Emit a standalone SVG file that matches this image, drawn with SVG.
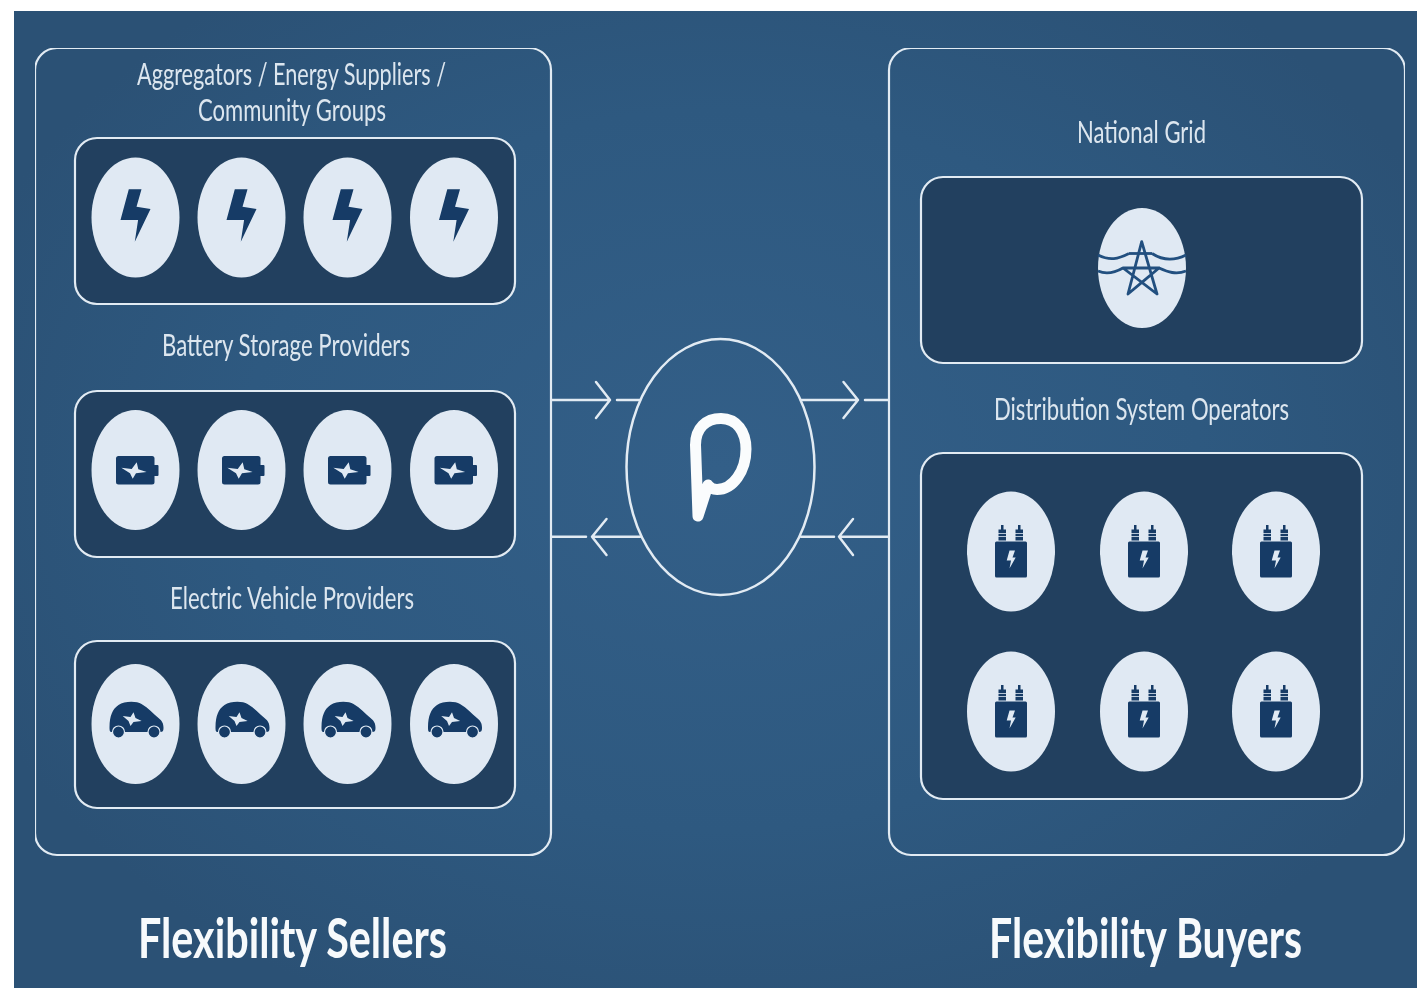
<svg xmlns="http://www.w3.org/2000/svg" width="1417" height="988" viewBox="0 0 1417 988">
<defs>
<radialGradient id="bg" gradientUnits="userSpaceOnUse" cx="720" cy="470" r="800" gradientTransform="translate(720 470) scale(1 0.75) translate(-720 -470)">
<stop offset="0" stop-color="#335f88"/><stop offset="0.6" stop-color="#2e5980"/><stop offset="1" stop-color="#2b5175"/>
</radialGradient>
<filter id="soft" x="0" y="0" width="100%" height="100%"><feGaussianBlur stdDeviation="0.45"/></filter>
<g id="bolt"><ellipse class="disc" rx="44" ry="60"/><path class="ink" d="M-6.700 -28.200H6L1 -10.800L15 -8.500L-0.700 24.200L2.600 2.500H-15Z"/></g>
<g id="battery"><ellipse class="disc" rx="44" ry="60"/><rect class="ink" x="-19.500" y="-14" width="38.500" height="28.500" rx="2.500"/><rect class="ink" x="18" y="-5" width="5" height="11" rx="1"/><path class="disc" d="M-14.200 -2.300L-3.800 -1L1.200 -7.700L2.800 -0.700L11.200 2L0.500 3.300L-2.800 8.700L-5.500 3.300Z"/></g>
<g id="car"><ellipse class="disc" rx="44" ry="60"/><path class="ink" d="M-26 3C-26 -8 -23 -15 -17 -19C-11 -23 1 -23 6 -20C13 -16 18 -10 23 -6C27 -3 28 0 28 4C28 7 27 8 25 8H-24C-26 8 -26 6 -26 3Z"/><circle class="wheel" cx="-17" cy="8" r="6"/><circle class="wheel" cx="18.500" cy="8" r="6"/><path class="disc" d="M-12.800 -8L-5 -7L-2 -11.700L0 -6L6.200 -3L-2 -2L-5 2L-7 -3Z"/></g>
<g id="xfmr"><ellipse class="disc" rx="44" ry="60"/><rect class="ink" x="-16" y="-10" width="32" height="36" rx="1.500"/><path class="ink" d="M-10 -26.500H-7.500V-22H-5V-11H-12.500V-22H-10ZM7 -26.500H9.500V-22H12V-11H4.500V-22H7Z"/><path class="rib" d="M-13 -18H-5M-13 -15H-5M4 -18H12.500M4 -15H12.500"/><path class="disc" d="M-1.500 -1H4L1.500 6H4.700L-1.500 17L0 9H-4.300Z"/></g>
</defs>
<style>
.disc{fill:#e0e9f3}
.ink{fill:#123a66}
.rib{fill:none;stroke:#e0e9f3;stroke-width:.8}
.wheel{fill:#123a66;stroke:#e0e9f3;stroke-width:1.200}
.outer{fill:none;stroke:#e2ebf3;stroke-width:2.200}
.inner{fill:#21405f;stroke:#e2ebf3;stroke-width:2.200}
.hub{fill:none;stroke:#e2ebf3;stroke-width:2.500}
.conn{fill:none;stroke:#e2ebf3;stroke-width:2.500;stroke-linecap:round;stroke-linejoin:round}
.lbl{font-family:"Lato","Liberation Sans",sans-serif;font-size:30px;fill:#dce6ef}
.title{font-family:"Lato","Liberation Sans",sans-serif;font-size:56px;font-weight:700;fill:#f7fafc}
</style>
<rect width="1417" height="988" fill="#ffffff"/>
<rect x="14" y="11" width="1403" height="977" fill="url(#bg)"/>
<g filter="url(#soft)">
<g id="sellers">
<rect class="outer" x="35" y="48" width="516" height="807" rx="22"/>
<text class="lbl" x="137" y="85" textLength="309" lengthAdjust="spacingAndGlyphs">Aggregators / Energy Suppliers /</text>
<text class="lbl" x="198" y="121" textLength="188" lengthAdjust="spacingAndGlyphs">Community Groups</text>
<text class="lbl" x="162" y="356" textLength="248" lengthAdjust="spacingAndGlyphs">Battery Storage Providers</text>
<text class="lbl" x="170" y="609" textLength="244" lengthAdjust="spacingAndGlyphs">Electric Vehicle Providers</text>
<text class="title" x="138" y="958" textLength="309" lengthAdjust="spacingAndGlyphs">Flexibility Sellers</text>
</g>
<g id="aggregators">
<rect class="inner" x="75" y="138" width="440" height="166" rx="22"/>
<use href="#bolt" x="135.500" y="217.500"/><use href="#bolt" x="241.500" y="217.500"/><use href="#bolt" x="347.500" y="217.500"/><use href="#bolt" x="454" y="217.500"/>
</g>
<g id="battery-providers">
<rect class="inner" x="75" y="391" width="440" height="166" rx="22"/>
<use href="#battery" x="135.500" y="470"/><use href="#battery" x="241.500" y="470"/><use href="#battery" x="347.500" y="470"/><use href="#battery" x="454" y="470"/>
</g>
<g id="ev-providers">
<rect class="inner" x="75" y="641" width="440" height="167" rx="22"/>
<use href="#car" x="135.500" y="724"/><use href="#car" x="241.500" y="724"/><use href="#car" x="347.500" y="724"/><use href="#car" x="454" y="724"/>
</g>

<g id="buyers">
<rect class="outer" x="889" y="48" width="516" height="807" rx="22"/>
<text class="lbl" x="1077" y="143" textLength="129" lengthAdjust="spacingAndGlyphs">National Grid</text>
<text class="lbl" x="994" y="420" textLength="295" lengthAdjust="spacingAndGlyphs">Distribution System Operators</text>
<text class="title" x="989" y="958" textLength="313" lengthAdjust="spacingAndGlyphs">Flexibility Buyers</text>
</g>
<g id="national-grid">
<rect class="inner" x="921" y="177" width="441" height="186" rx="22"/>
<ellipse class="disc" cx="1142" cy="268" rx="44" ry="60"/>
<g fill="none" stroke="#21507f" stroke-width="2.800" stroke-linejoin="round">
<path d="M1128 294L1141.700 241.700L1157 294L1123 268H1159L1128 294Z"/>
<path d="M1129 253.500H1152"/>
<path d="M1098 255C1110 261 1118 259 1129 253.500M1152 253.500C1162 260 1174 261 1186 255M1098 271C1107 275 1116 272 1123 268M1159 268C1168 272 1176 275 1186 271"/>
</g>
</g>
<g id="dso">
<rect class="inner" x="921" y="453" width="441" height="346" rx="22"/>
<use href="#xfmr" x="1011" y="551.500"/><use href="#xfmr" x="1144" y="551.500"/><use href="#xfmr" x="1276" y="551.500"/>
<use href="#xfmr" x="1011" y="711.500"/><use href="#xfmr" x="1144" y="711.500"/><use href="#xfmr" x="1276" y="711.500"/>
</g>

<g id="platform">
<ellipse class="hub" cx="720.500" cy="467" rx="94" ry="128"/>
<path d="M698 516L695.500 445C695.500 428 706 418.500 721 418.500C737 418.500 746 432 746 449C746 471 733 489.500 717 489.500C713 489.500 710 488 708 485Z" fill="none" stroke="#fafcfd" stroke-width="11" stroke-linejoin="round" stroke-linecap="round"/>
</g>

<g id="connectors">
<path class="conn" d="M552 400H610M596 382L610 400L596 418M617 400H640"/>
<path class="conn" d="M801 400H858M843.500 382L858 400L843.500 418M865 400H888"/>
<path class="conn" d="M552 536.700H586M606.500 519L592 536.700L606.500 555M592 536.700H640"/>
<path class="conn" d="M801 536.700H834M853 519L839 536.700L853 555M839 536.700H888"/>
</g>
</g>
</svg>
